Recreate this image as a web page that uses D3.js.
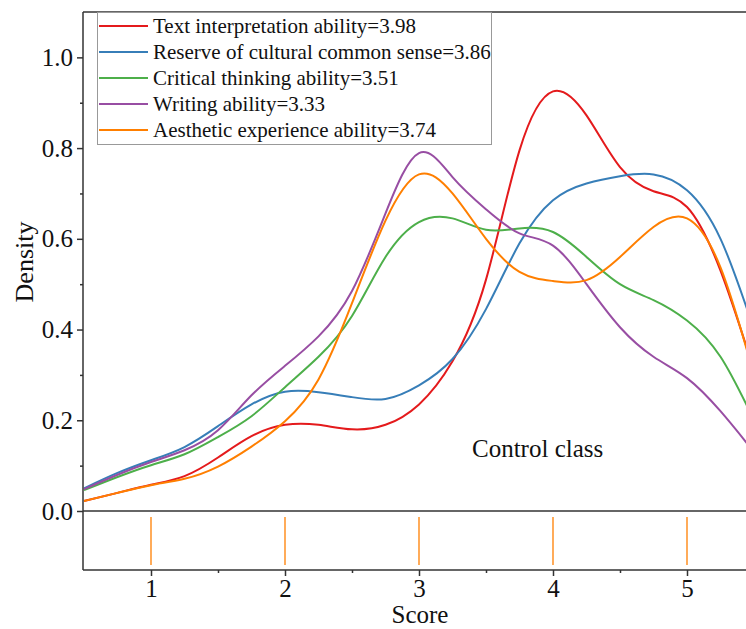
<!doctype html>
<html>
<head>
<meta charset="utf-8">
<script src="https://d3js.org/d3.v7.min.js"></script>
<style>
  body { margin: 0; background: #fff; }
  text { font-family: "Liberation Serif", "Times New Roman", serif; fill: #111; }
</style>
</head>
<body>
<svg id="chart" width="746" height="629"></svg>
<script>
const scores = [0.5, 0.75, 1, 1.25, 1.5, 1.75, 2, 2.25, 2.5, 2.75, 3, 3.25, 3.5, 3.75, 4, 4.25, 4.5, 4.75, 5, 5.25, 5.5];

const textInterp = [0.022, 0.04, 0.058, 0.077, 0.118, 0.165, 0.19, 0.19, 0.18, 0.19, 0.235, 0.33, 0.51, 0.795, 0.925, 0.872, 0.758, 0.705, 0.67, 0.53, 0.31];
const culturalSense = [0.05, 0.084, 0.112, 0.141, 0.187, 0.235, 0.263, 0.262, 0.251, 0.247, 0.277, 0.335, 0.445, 0.59, 0.685, 0.722, 0.738, 0.742, 0.707, 0.60, 0.40];
const criticalThinking = [0.046, 0.075, 0.101, 0.125, 0.163, 0.209, 0.273, 0.34, 0.43, 0.56, 0.637, 0.645, 0.62, 0.623, 0.615, 0.56, 0.50, 0.465, 0.42, 0.34, 0.2];
const writing = [0.048, 0.08, 0.108, 0.134, 0.178, 0.255, 0.32, 0.385, 0.485, 0.656, 0.789, 0.736, 0.665, 0.612, 0.585, 0.50, 0.405, 0.34, 0.293, 0.22, 0.13];
const aesthetic = [0.022, 0.04, 0.057, 0.071, 0.098, 0.142, 0.198, 0.29, 0.458, 0.64, 0.742, 0.70, 0.60, 0.527, 0.507, 0.509, 0.56, 0.626, 0.645, 0.537, 0.30];

const seriesNames = [
  "Text interpretation ability=3.98",
  "Reserve of cultural common sense=3.86",
  "Critical thinking ability=3.51",
  "Writing ability=3.33",
  "Aesthetic experience ability=3.74"
];
const seriesValues = [textInterp, culturalSense, criticalThinking, writing, aesthetic];
const colors = ["#e41a1c", "#377eb8", "#4daf4a", "#984ea3", "#ff7f00"];

const rugScores = [1, 2, 3, 4, 5];
const xTicks = [1, 2, 3, 4, 5];
const yTicks = [0, 0.2, 0.4, 0.6, 0.8, 1.0];

const svg = d3.select("#chart");
const plotLeft = 83, plotTop = 12, zeroY = 511, plotBottom = 570;
const serif = '"Liberation Serif", "Times New Roman", serif';

const x = d3.scaleLinear().domain([0.5, 5.5]).range([84, 754]);
const y = d3.scaleLinear().domain([0, 1.1]).range([zeroY, plotTop]);

svg.append("clipPath").attr("id", "plotclip")
  .append("rect").attr("x", plotLeft).attr("y", plotTop).attr("width", 746 - plotLeft).attr("height", zeroY - plotTop);

// density curves
const line = d3.line()
  .x(d => x(d[0]))
  .y(d => y(d[1]))
  .curve(d3.curveNatural);

const curves = svg.append("g").attr("clip-path", "url(#plotclip)");
seriesValues.forEach((vals, i) => {
  curves.append("path")
    .datum(scores.map((s, j) => [s, vals[j]]))
    .attr("d", line)
    .attr("fill", "none")
    .attr("stroke", colors[i])
    .attr("stroke-width", 2);
});

// rug strip
svg.append("g").selectAll("line").data(rugScores).join("line")
  .attr("x1", d => x(d)).attr("x2", d => x(d))
  .attr("y1", 517).attr("y2", 565)
  .attr("stroke", colors[4]).attr("stroke-width", 1.3);

// frame lines
const axisColor = "#333";
svg.append("line").attr("x1", plotLeft).attr("x2", 746).attr("y1", plotTop).attr("y2", plotTop)
  .attr("stroke", axisColor).attr("stroke-width", 1.5);
svg.append("line").attr("x1", plotLeft).attr("x2", 746).attr("y1", zeroY).attr("y2", zeroY)
  .attr("stroke", axisColor).attr("stroke-width", 1.5);
svg.append("line").attr("x1", plotLeft).attr("x2", plotLeft).attr("y1", plotTop).attr("y2", plotBottom)
  .attr("stroke", axisColor).attr("stroke-width", 1.5);

// y axis
const yAxis = svg.append("g").attr("transform", `translate(${plotLeft},0)`)
  .call(d3.axisLeft(y).tickValues(yTicks).tickFormat(d3.format(".1f")).tickSize(6).tickPadding(4));
yAxis.attr("font-family", serif).attr("font-size", 25);
yAxis.select(".domain").remove();
yAxis.selectAll("line").attr("stroke", axisColor).attr("stroke-width", 1.5);
yAxis.selectAll("text").attr("fill", "#111");
const yMinor = svg.append("g").attr("transform", `translate(${plotLeft},0)`)
  .call(d3.axisLeft(y).tickValues([0.1, 0.3, 0.5, 0.7, 0.9]).tickFormat("").tickSize(3));
yMinor.select(".domain").remove();
yMinor.selectAll("line").attr("stroke", axisColor).attr("stroke-width", 1.5);

// x axis
const xAxis = svg.append("g").attr("transform", `translate(0,${plotBottom})`)
  .call(d3.axisBottom(x).tickValues(xTicks).tickFormat(d3.format("d")).tickSize(6).tickPadding(3));
xAxis.attr("font-family", serif).attr("font-size", 25);
xAxis.select(".domain").attr("d", `M${plotLeft},0H746`).attr("stroke", axisColor).attr("stroke-width", 1.5);
xAxis.selectAll("line").attr("stroke", axisColor).attr("stroke-width", 1.5);
xAxis.selectAll("text").attr("fill", "#111");
const xMinor = svg.append("g").attr("transform", `translate(0,${plotBottom})`)
  .call(d3.axisBottom(x).tickValues([1.5, 2.5, 3.5, 4.5]).tickFormat("").tickSize(3));
xMinor.select(".domain").remove();
xMinor.selectAll("line").attr("stroke", axisColor).attr("stroke-width", 1.5);

// axis titles
svg.append("text").attr("x", 420).attr("y", 623).attr("text-anchor", "middle")
  .attr("font-size", 25).text("Score");
svg.append("text").attr("transform", "translate(33,262) rotate(-90)").attr("text-anchor", "middle")
  .attr("font-size", 26).text("Density");

// annotation
svg.append("text").attr("x", 472).attr("y", 457).attr("font-size", 25).text("Control class");

// legend
const legend = svg.append("g");
legend.append("rect").attr("x", 97.5).attr("y", 12.5).attr("width", 394).attr("height", 132)
  .attr("fill", "#fff").attr("stroke", "#999").attr("stroke-width", 1);
seriesNames.forEach((name, i) => {
  const ly = 26 + i * 26;
  legend.append("line").attr("x1", 99).attr("x2", 148).attr("y1", ly).attr("y2", ly)
    .attr("stroke", colors[i]).attr("stroke-width", 2);
  legend.append("text").attr("x", 153).attr("y", ly + 7).attr("font-size", 21).text(name);
});
</script>
</body>
</html>
